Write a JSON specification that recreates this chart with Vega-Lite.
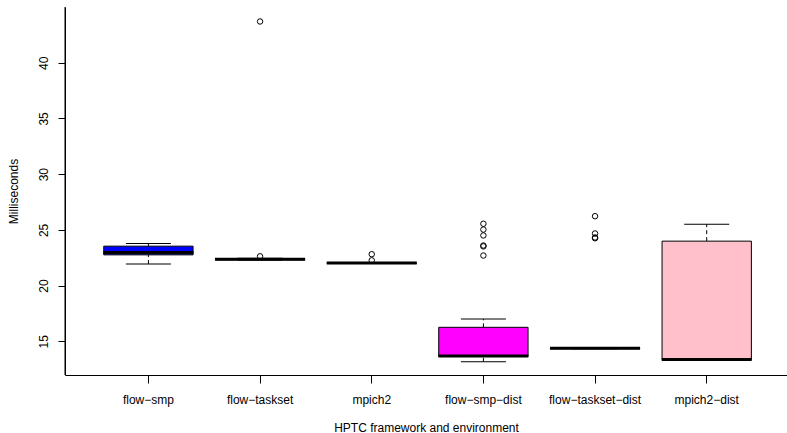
{
  "$schema": "https://vega.github.io/schema/vega-lite/v6.json",
  "autosize": {"type": "none"},
  "padding": {"left": 65, "top": 7, "right": 0, "bottom": 58},
  "width": 722,
  "height": 368,
  "background": "white",
  "config": {
    "view": {"stroke": null},
    "font": "Liberation Sans",
    "axis": {
      "domainColor": "black", "tickColor": "black", "labelColor": "black", "titleColor": "black",
      "labelFont": "Liberation Sans", "titleFont": "Liberation Sans",
      "labelFontSize": 12, "titleFontSize": 12, "titleFontWeight": "normal", "grid": false
    }
  },
  "datasets": {
    "boxes": [
      {"group": "flow-smp", "lower": 21.93, "q1": 22.76, "median": 22.97, "q3": 23.54, "upper": 23.78},
      {"group": "flow-taskset", "lower": 22.3, "q1": 22.31, "median": 22.37, "q3": 22.42, "upper": 22.45},
      {"group": "mpich2", "lower": 21.98, "q1": 21.99, "median": 22.02, "q3": 22.05, "upper": 22.06},
      {"group": "flow-smp-dist", "lower": 13.17, "q1": 13.65, "median": 13.68, "q3": 16.26, "upper": 17.0},
      {"group": "flow-taskset-dist", "lower": 14.33, "q1": 14.34, "median": 14.37, "q3": 14.4, "upper": 14.41},
      {"group": "mpich2-dist", "lower": 13.37, "q1": 13.37, "median": 13.38, "q3": 23.99, "upper": 25.51}
    ],
    "outliers": [
      {"group": "flow-taskset", "value": 22.63},
      {"group": "flow-taskset", "value": 43.7},
      {"group": "mpich2", "value": 22.82},
      {"group": "mpich2", "value": 22.27},
      {"group": "flow-smp-dist", "value": 25.55},
      {"group": "flow-smp-dist", "value": 25.03},
      {"group": "flow-smp-dist", "value": 24.5},
      {"group": "flow-smp-dist", "value": 23.6},
      {"group": "flow-smp-dist", "value": 23.52},
      {"group": "flow-smp-dist", "value": 22.7},
      {"group": "flow-taskset-dist", "value": 26.23},
      {"group": "flow-taskset-dist", "value": 24.68},
      {"group": "flow-taskset-dist", "value": 24.32},
      {"group": "flow-taskset-dist", "value": 24.25}
    ]
  },
  "encoding": {
    "x": {
      "field": "group", "type": "nominal", "sort": null,
      "scale": {
        "type": "band",
        "domain": ["flow-smp", "flow-taskset", "mpich2", "flow-smp-dist", "flow-taskset-dist", "mpich2-dist"],
        "paddingInner": 0, "paddingOuter": 0.233, "align": 0.53
      },
      "axis": {
        "title": "HPTC framework and environment",
        "labelExpr": "replace(datum.label, /-/g, '\u2212')",
        "labelAngle": 0, "tickSize": 8, "labelPadding": 11, "titlePadding": 17,
        "domainColor": "black"
      }
    }
  },
  "layer": [
    {
      "data": {"name": "boxes"},
      "mark": {"type": "rule", "color": "black", "strokeDash": [4, 3], "strokeWidth": 1},
      "encoding": {
        "y": {
          "field": "q3", "type": "quantitative",
          "scale": {"domain": [11.98, 45.0], "nice": false, "zero": false},
          "axis": {
            "title": "Milliseconds", "values": [15, 20, 25, 30, 35, 40],
            "labelAngle": 270, "labelAlign": "center", "labelBaseline": "bottom",
            "tickSize": 7, "labelPadding": 8, "titlePadding": 17
          }
        },
        "y2": {"field": "upper"}
      }
    },
    {
      "data": {"name": "boxes"},
      "mark": {"type": "rule", "color": "black", "strokeDash": [4, 3], "strokeWidth": 1},
      "encoding": {
        "y": {"field": "lower", "type": "quantitative"},
        "y2": {"field": "q1"}
      }
    },
    {
      "data": {"name": "boxes"},
      "mark": {"type": "tick", "color": "black", "size": 45, "thickness": 1, "opacity": 1},
      "encoding": {"y": {"field": "upper", "type": "quantitative"}}
    },
    {
      "data": {"name": "boxes"},
      "mark": {"type": "tick", "color": "black", "size": 45, "thickness": 1, "opacity": 1},
      "encoding": {"y": {"field": "lower", "type": "quantitative"}}
    },
    {
      "data": {"name": "boxes"},
      "mark": {"type": "bar", "width": {"band": 0.8}, "stroke": "black", "strokeWidth": 1, "opacity": 1},
      "encoding": {
        "y": {"field": "q1", "type": "quantitative"},
        "y2": {"field": "q3"},
        "fill": {
          "field": "group", "type": "nominal", "legend": null,
          "scale": {
            "domain": ["flow-smp", "flow-taskset", "mpich2", "flow-smp-dist", "flow-taskset-dist", "mpich2-dist"],
            "range": ["#0000FF", "#BEBEBE", "#BEBEBE", "#FF00FF", "#BEBEBE", "#FFC0CB"]
          }
        }
      }
    },
    {
      "data": {"name": "boxes"},
      "mark": {"type": "tick", "color": "black", "size": 90, "thickness": 3, "opacity": 1},
      "encoding": {"y": {"field": "median", "type": "quantitative"}}
    },
    {
      "data": {"name": "outliers"},
      "mark": {"type": "point", "shape": "circle", "filled": false, "color": "black", "size": 30, "strokeWidth": 1, "opacity": 1},
      "encoding": {"y": {"field": "value", "type": "quantitative"}}
    },
    {
      "data": {"values": [{}]},
      "mark": {"type": "rule", "color": "black", "strokeWidth": 1},
      "encoding": {"y": {"datum": 45.0, "type": "quantitative"}}
    }
  ]
}
